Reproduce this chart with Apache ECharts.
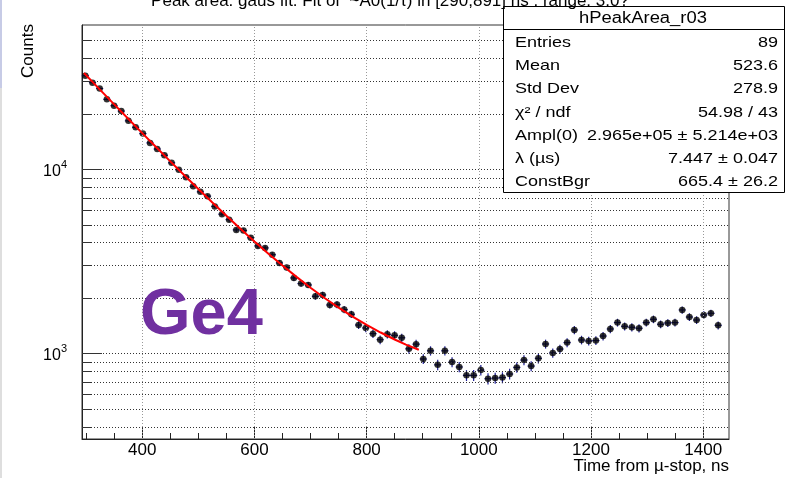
<!DOCTYPE html>
<html><head><meta charset="utf-8">
<script src="https://cdn.jsdelivr.net/npm/echarts@6/dist/echarts.min.js"></script>
<style>html,body{margin:0;padding:0;background:#fff}#c{width:785px;height:478px}</style>
</head><body><div id="c"></div><script>
// ---- data ----
const timeNs = [
 298.5, 311.3, 324.1, 337.0, 349.8, 362.6, 375.4, 388.2, 401.1, 413.9,
 426.7, 439.5, 452.3, 465.2, 478.0, 490.8, 503.6, 516.4, 529.3, 542.1,
 554.9, 567.7, 580.5, 593.4, 606.2, 619.0, 631.8, 644.6, 657.5, 670.3,
 683.1, 695.9, 708.7, 721.6, 734.4, 747.2, 760.0, 772.8, 785.7, 798.5,
 811.3, 824.1, 836.9, 849.8, 862.6, 875.4, 888.2, 901.0, 913.9, 926.7,
 939.5, 952.3, 965.1, 978.0, 990.8, 1003.6, 1016.4, 1029.2, 1042.1, 1054.9,
 1067.7, 1080.5, 1093.3, 1106.2, 1119.0, 1131.8, 1144.6, 1157.4, 1170.3, 1183.1,
 1195.9, 1208.7, 1221.5, 1234.4, 1247.2, 1260.0, 1272.8, 1285.6, 1298.5, 1311.3,
 1324.1, 1336.9, 1349.7, 1362.6, 1375.4, 1388.2, 1401.0, 1413.8, 1426.7
];
const counts = [
 32260, 29560, 27490, 24010, 22170, 20740, 18350, 16930, 15650, 13930,
 12900, 11930, 10860, 9960, 9080, 8094, 7556, 7160, 6295, 5716,
 5337, 4696, 4661, 4259, 3844, 3749, 3443, 3108, 2934, 2576,
 2401, 2359, 2048, 2082, 1837, 1846, 1734, 1635, 1430, 1378,
 1284, 1191, 1273, 1257, 1219, 1062, 1126, 935, 1036, 869,
 1036, 900, 846, 762, 762, 814, 731, 737, 741, 775,
 842, 923, 856, 943, 1128, 1008, 1059, 1148, 1344, 1186,
 1171, 1177, 1246, 1361, 1474, 1407, 1390, 1373, 1474, 1536,
 1443, 1467, 1474, 1726, 1580, 1522, 1621, 1656, 1425
];
const countErr = [
 336, 322, 310, 290, 278, 270, 253, 244, 234, 221,
 213, 205, 195, 187, 179, 168, 162, 159, 148, 142,
 137, 128, 128, 122, 116, 115, 110, 104, 102, 95,
 91, 91, 85, 85, 80, 80, 78, 76, 71, 70,
 67, 65, 66, 66, 65, 62, 63, 57, 60, 56,
 60, 56, 54, 52, 52, 53, 51, 51, 51, 52,
 54, 57, 54, 58, 63, 59, 60, 64, 69, 64,
 64, 64, 66, 69, 72, 70, 70, 70, 72, 73,
 71, 72, 72, 78, 75, 73, 76, 76, 71
];
const binHalfWidth = 6.4;
const fitTime = [296, 325, 350, 375, 400, 425, 450, 475, 500, 525, 550, 575, 600, 625, 650, 675, 700, 725, 750, 775, 800, 825, 850, 870, 893];
const fitCounts = [33372, 27022, 22541, 18829, 15742, 13181, 11054, 9291, 7825, 6609, 5599, 4761, 4065, 3488, 3008, 2610, 2280, 2005, 1778, 1589, 1432, 1302, 1193, 1120, 1049];
const xTickLabels = [400, 600, 800, 1000, 1200, 1400];
const xMinorTicks = [300, 350, 400, 450, 500, 550, 600, 650, 700, 750, 800, 850, 900, 950, 1000, 1050, 1100, 1150, 1200, 1250, 1300, 1350, 1400];
const yGridValues = [400, 500, 600, 700, 800, 900, 1000, 2000, 3000, 4000, 5000, 6000, 7000, 8000, 9000, 10000, 20000, 30000, 40000, 50000];
const yMajorTicks = [1000, 10000];
const statsTitle = 'hPeakArea_r03';
const statsLabels = ['Entries', 'Mean', 'Std Dev', 'χ² / ndf', 'Ampl(0)', 'λ (µs)', 'ConstBgr'];
const statsValues = ['89', '523.6', '278.9', '54.98 / 43', '2.965e+05 ± 5.214e+03', '7.447 ± 0.047', '665.4 ± 26.2'];
const titleText = 'Peak area: gaus fit. Fit of  ~A0(1/τ) in [290,891] ns . range: 3.0?';
const xTitle = 'Time from µ-stop, ns';
const yTitle = 'Counts';

// ---- chart ----
const X_MIN = 292.6, X_MAX = 1446, Y_MIN = 344, Y_MAX = 60800;
const minorTickLen = 17.8, majorTickLen = 35.6;
const FONT = "'Liberation Sans', Arial, Helvetica, sans-serif";

const pointData = timeNs.map((t, i) => [t, counts[i], countErr[i]]);
const fitData = fitTime.map((t, i) => [t, fitCounts[i]]);
const yTickSegs = yGridValues.map(v => [
  {coord: [X_MIN, v]},
  {coord: [X_MIN + (yMajorTicks.includes(v) ? majorTickLen : minorTickLen), v]}
]);

const statsTop = 42.5, statsStep = 23.3;
const statsGraphics = [];
statsGraphics.push({type: 'rect', z: 100, shape: {x: 503.5, y: 6.5, width: 281, height: 186}, style: {fill: '#fff', stroke: '#000', lineWidth: 1}});
statsGraphics.push({type: 'line', z: 101, shape: {x1: 503.5, y1: 29.5, x2: 784.5, y2: 29.5}, style: {stroke: '#000', lineWidth: 1}});
statsGraphics.push({type: 'text', z: 101, x: 643, y: 18.5, scaleX: 1.15, style: {text: statsTitle, fontSize: 16, fontFamily: FONT, fill: '#000', align: 'center', verticalAlign: 'middle'}});
statsLabels.forEach((lab, i) => {
  statsGraphics.push({type: 'text', z: 101, x: 515, y: statsTop + i * statsStep, scaleX: 1.2, style: {text: lab, fontSize: 15, fontFamily: FONT, fill: '#000', align: 'left', verticalAlign: 'middle'}});
  statsGraphics.push({type: 'text', z: 101, x: 778, y: statsTop + i * statsStep, scaleX: 1.2, style: {text: statsValues[i], fontSize: 15, fontFamily: FONT, fill: '#000', align: 'right', verticalAlign: 'middle'}});
});

const chart = echarts.init(document.getElementById('c'), null, {renderer: 'canvas'});
const option = {
  animation: false,
  backgroundColor: '#fff',
  title: {
    text: titleText, left: 390, textAlign: 'center', top: -7, padding: 0, z: 200,
    textStyle: {fontSize: 17, fontWeight: 'normal', fontFamily: FONT, color: '#000'}
  },
  grid: {left: 82, top: 25, width: 647, height: 414, show: true, borderColor: '#333', borderWidth: 1,
         containLabel: false, outerBoundsMode: 'none'},
  xAxis: [{
    type: 'value', min: X_MIN, max: X_MAX, position: 'bottom',
    axisLine: {show: true, lineStyle: {color: '#222'}},
    axisTick: {show: true, inside: true, length: 6, customValues: xMinorTicks, lineStyle: {color: '#222'}},
    axisLabel: {customValues: xTickLabels, fontSize: 17, margin: 3, color: '#000', fontFamily: FONT, formatter: v => String(v)},
    splitLine: {show: false}
  }, {
    type: 'value', min: X_MIN, max: X_MAX, position: 'bottom',
    axisLine: {show: false},
    axisTick: {show: true, inside: true, length: 13, customValues: xTickLabels, lineStyle: {color: '#222'}},
    axisLabel: {show: false}, splitLine: {show: false}
  }],
  yAxis: {
    type: 'log', logBase: 10, min: Y_MIN, max: Y_MAX,
    axisLine: {show: true, lineStyle: {color: '#222'}},
    axisTick: {show: false},
    splitLine: {show: false}, minorTick: {show: false}, minorSplitLine: {show: false},
    axisLabel: {
      showMinLabel: false, showMaxLabel: false, margin: 15, color: '#000',
      formatter: v => '{b|10}{s|' + Math.round(Math.log10(v)) + '}',
      rich: {
        b: {fontSize: 16, fontFamily: FONT, color: '#000', lineHeight: 20, verticalAlign: 'bottom'},
        s: {fontSize: 11, fontFamily: FONT, color: '#000', lineHeight: 12, verticalAlign: 'top'}
      }
    }
  },
  series: [
    {type: 'line', data: [], silent: true, z: 1,
     markLine: {silent: true, symbol: 'none', label: {show: false}, animation: false,
       lineStyle: {color: '#333', type: [1, 2], width: 1},
       data: yGridValues.map(v => ({yAxis: v}))}},
    {type: 'line', data: [], silent: true, z: 1,
     markLine: {silent: true, symbol: 'none', label: {show: false}, animation: false,
       lineStyle: {color: '#999', type: [1, 2], width: 1},
       data: xTickLabels.map(v => ({xAxis: v}))}},
    {type: 'line', data: [], silent: true, z: 2,
     markLine: {silent: true, symbol: 'none', label: {show: false}, animation: false,
       lineStyle: {color: '#333', type: 'solid', width: 1},
       data: yTickSegs}},
    {type: 'custom', z: 3, data: pointData, encode: {x: 0, y: 1},
     renderItem: (params, api) => {
       const x = api.value(0), y = api.value(1), e = api.value(2);
       const top = api.coord([x, y + e]), bot = api.coord([x, y - e]);
       const l = api.coord([x - binHalfWidth, y]), r = api.coord([x + binHalfWidth, y]);
       const style = {stroke: '#20209a', lineWidth: 1.2};
       return {type: 'group', children: [
         {type: 'line', shape: {x1: top[0], y1: top[1], x2: bot[0], y2: bot[1]}, style},
         {type: 'line', shape: {x1: l[0], y1: l[1], x2: r[0], y2: r[1]}, style}
       ]};
     }},
    {type: 'scatter', z: 4, data: pointData, encode: {x: 0, y: 1}, symbol: 'circle', symbolSize: 6.5, itemStyle: {color: '#000'}},
    {type: 'line', z: 5, data: fitData, symbol: 'none', showSymbol: false, lineStyle: {color: '#ff0000', width: 2}}
  ],
  graphic: [
    {type: 'rect', z: 100, shape: {x: 0, y: 0, width: 2, height: 88}, style: {fill: '#c7cbe6'}},
    {type: 'rect', z: 100, shape: {x: 0, y: 88, width: 2, height: 390}, style: {fill: '#dedede'}},
    ...statsGraphics,
    {type: 'text', z: 100, x: 28, y: 51, rotation: Math.PI / 2,
     style: {text: yTitle, fontSize: 17, fontFamily: FONT, fill: '#000', align: 'center', verticalAlign: 'middle'}},
    {type: 'text', z: 100, x: 729, y: 466.5,
     style: {text: xTitle, fontSize: 17, fontFamily: FONT, fill: '#000', align: 'right', verticalAlign: 'middle'}},
    {type: 'text', z: 100, x: 140, y: 316,
     style: {text: 'Ge4', fontSize: 65, fontWeight: 'bold', fontFamily: FONT, fill: '#7030a0', align: 'left', verticalAlign: 'middle'}}
  ]
};
chart.setOption(option);
</script></body></html>
